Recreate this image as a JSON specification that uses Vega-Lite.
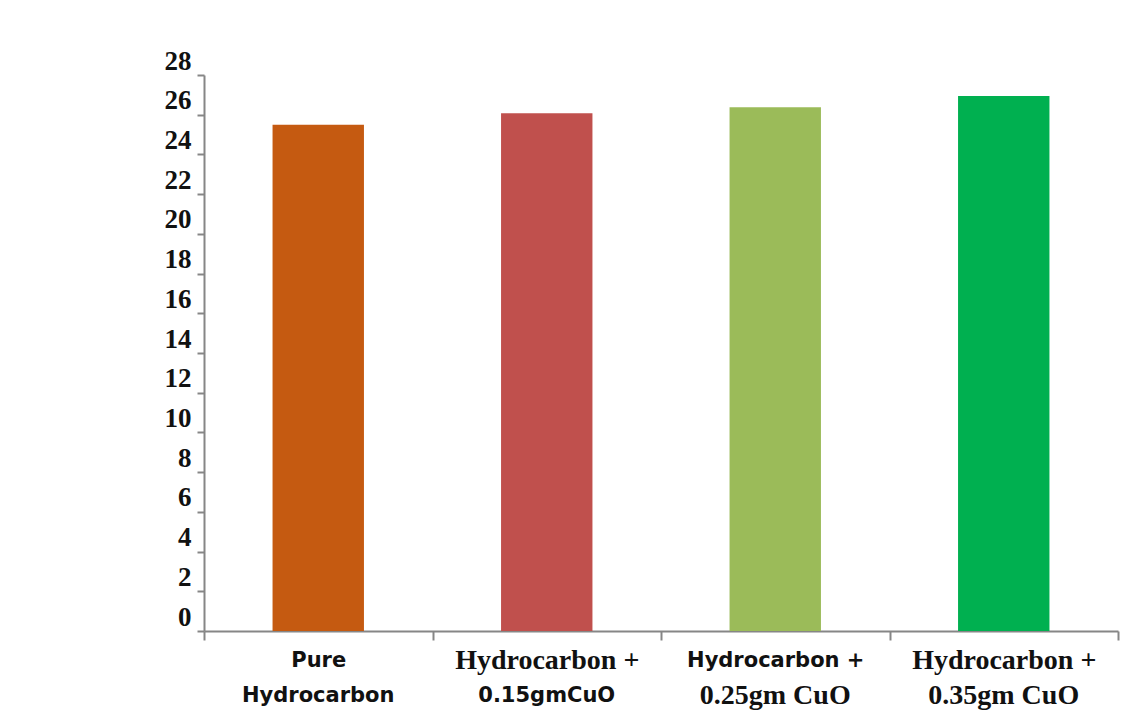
{
  "$schema": "https://vega.github.io/schema/vega-lite/v6.json",
  "autosize": "none",
  "width": 914,
  "height": 556,
  "padding": {"left": 204, "top": 75, "right": 27, "bottom": 87},
  "background": "white",
  "config": {"view": {"stroke": null}},
  "data": {
    "values": [
      {"sample": "Pure Hydrocarbon", "value": 25.5},
      {"sample": "Hydrocarbon + 0.15gmCuO", "value": 26.07},
      {"sample": "Hydrocarbon + 0.25gm CuO", "value": 26.37},
      {"sample": "Hydrocarbon + 0.35gm CuO", "value": 26.94}
    ]
  },
  "encoding": {
    "y": {
      "field": "value", "type": "quantitative",
      "scale": {"domain": [0, 28], "nice": false},
      "axis": {
        "title": null, "values": [0,2,4,6,8,10,12,14,16,18,20,22,24,26,28], "grid": false,
        "domainColor": "#868686", "domainWidth": 2, "tickColor": "#868686", "tickWidth": 2, "tickSize": 7,
        "labelFont": "Liberation Serif", "labelFontSize": 27, "labelFontWeight": "bold", "labelColor": "#111111",
        "labelPadding": 6, "labelOffset": -14
      }
    }
  },
  "layer": [
    {
      "mark": {"type": "bar", "width": {"band": 0.4}},
      "encoding": {
        "x": {
          "field": "sample", "type": "nominal", "sort": null,
          "scale": {"paddingInner": 0, "paddingOuter": 0},
          "axis": {
            "title": null, "orient": "bottom", "labelAngle": 0, "labelLimit": 400,
            "domainColor": "#868686", "domainWidth": 2, "tickColor": "#868686", "tickWidth": 2, "tickSize": 9,
            "tickBand": "extent",
            "labelExpr": "datum.value == 'Pure Hydrocarbon' ? 'Pure' : (indexof('' + datum.value, 'Hydrocarbon +') == 0 ? 'Hydrocarbon +' : '')",
            "labelFont": {"condition": {"test": "datum.value == 'Pure Hydrocarbon' || datum.value == 'Hydrocarbon + 0.25gm CuO'", "value": "DejaVu Sans"}, "value": "Liberation Serif"},
            "labelFontSize": {"condition": {"test": "datum.value == 'Pure Hydrocarbon' || datum.value == 'Hydrocarbon + 0.25gm CuO'", "value": 21}, "value": 28},
            "labelFontWeight": "bold", "labelColor": "#111111",
            "labelBaseline": "middle", "labelPadding": 20
          }
        },
        "color": {
          "field": "sample", "type": "nominal", "sort": null, "legend": null,
          "scale": {"range": ["#C55A11", "#C0504D", "#9BBB59", "#00B050"]}
        }
      }
    },
    {
      "mark": {"type": "bar", "width": {"band": 0.4}, "opacity": 0},
      "encoding": {
        "x": {
          "field": "sample", "type": "nominal", "sort": null,
          "axis": {
            "title": null, "orient": "bottom", "labelAngle": 0, "labelLimit": 400, "domain": false, "ticks": false, "tickSize": 0,
            "labelExpr": "datum.value == 'Pure Hydrocarbon' ? 'Hydrocarbon' : replace(datum.value, 'Hydrocarbon + ', '')",
            "labelFont": {"condition": {"test": "datum.value == 'Pure Hydrocarbon' || datum.value == 'Hydrocarbon + 0.15gmCuO'", "value": "DejaVu Sans"}, "value": "Liberation Serif"},
            "labelFontSize": {"condition": {"test": "datum.value == 'Pure Hydrocarbon' || datum.value == 'Hydrocarbon + 0.15gmCuO'", "value": 21}, "value": 28},
            "labelFontWeight": "bold", "labelColor": "#111111",
            "labelBaseline": "middle", "labelPadding": 64
          }
        }
      }
    }
  ],
  "resolve": {"axis": {"x": "independent"}}
}
